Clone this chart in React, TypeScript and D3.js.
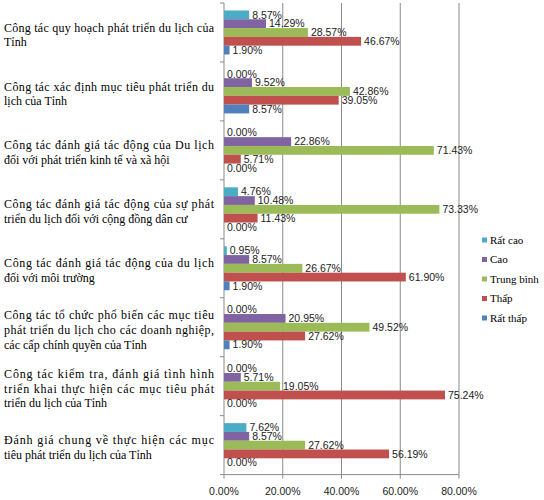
import * as d3 from 'd3';
import { useEffect, useRef } from 'react';

// categories, top to bottom (each entry = the wrapped lines of the label)
const categoryLines: string[][] = [
  ['Công tác quy hoạch phát triển du lịch của', 'Tỉnh'],
  ['Công tác xác định mục tiêu phát triển du', 'lịch của Tỉnh'],
  ['Công tác đánh giá tác động của Du lịch', 'đối với phát triển kinh tế và xã  hội'],
  ['Công tác đánh giá tác động của sự phát', 'triển du lịch đối với cộng đồng dân cư'],
  ['Công tác đánh giá tác động của du lịch', 'đối với môi trường'],
  ['Công tác tổ chức phổ biến các mục tiêu', 'phát triển du lịch cho các doanh nghiệp,', 'các cấp chính quyền của Tỉnh'],
  ['Công tác kiểm tra, đánh giá tình hình', 'triển khai thực hiện các mục tiêu phát', 'triển du lịch của Tỉnh'],
  ['Đánh giá chung về thực hiện các mục', 'tiêu phát triển du lịch của Tỉnh'],
];
const categories = categoryLines.map(l => l.join(' '));

const series = ['Rất cao', 'Cao', 'Trung bình', 'Thấp', 'Rất thấp'];
const colors = ['#4BACC6', '#8064A2', '#9BBB59', '#C0504D', '#4F81BD'];

// values in %, one per category
const veryHigh = [8.57, 0.0, 0.0, 4.76, 0.95, 0.0, 0.0, 7.62];
const high = [14.29, 9.52, 22.86, 10.48, 8.57, 20.95, 5.71, 8.57];
const medium = [28.57, 42.86, 71.43, 73.33, 26.67, 49.52, 19.05, 27.62];
const low = [46.67, 39.05, 5.71, 11.43, 61.9, 27.62, 75.24, 56.19];
const veryLow = [1.9, 8.57, 0.0, 0.0, 1.9, 1.9, 0.0, 0.0];
const seriesValues = [veryHigh, high, medium, low, veryLow];

const xTicks = [0, 20, 40, 60, 80];

const serif = 'Liberation Serif, DejaVu Serif, serif';
const sans = 'Liberation Sans, Arial, sans-serif';

export default function App() {
  const ref = useRef<SVGSVGElement | null>(null);

  useEffect(() => {
    if (!ref.current) return;
    const svg = d3.select(ref.current);
    svg.selectAll('*').remove();

    const left = 224;
    const right = 459;
    const top = 3;
    const bottom = 474.6;

    const x = d3.scaleLinear().domain([0, 80]).range([left, right]);
    const y = d3.scaleBand<string>().domain(categories).range([top, bottom]);
    const yInner = d3.scaleBand<string>()
      .domain(series)
      .range([0, y.bandwidth()])
      .paddingOuter(0.85);

    svg.append('rect').attr('width', 544).attr('height', 500).attr('fill', '#fff');

    // vertical gridlines (+ tick marks below axis)
    svg.append('g')
      .selectAll('line')
      .data(xTicks)
      .join('line')
      .attr('x1', d => x(d)).attr('x2', d => x(d))
      .attr('y1', d => (d === 0 ? bottom : top))
      .attr('y2', bottom + 4)
      .attr('stroke', '#8a8a8a')
      .attr('stroke-width', 1);

    // axes
    svg.append('line')
      .attr('x1', left).attr('x2', left).attr('y1', top).attr('y2', bottom)
      .attr('stroke', '#8a8a8a');
    svg.append('line')
      .attr('x1', left).attr('x2', right).attr('y1', bottom).attr('y2', bottom)
      .attr('stroke', '#8a8a8a');

    // category tick marks
    svg.append('g')
      .selectAll('line')
      .data(d3.range(categories.length + 1))
      .join('line')
      .attr('x1', left - 4).attr('x2', left)
      .attr('y1', i => top + i * y.step())
      .attr('y2', i => top + i * y.step())
      .attr('stroke', '#8a8a8a');

    // x tick labels
    svg.append('g')
      .selectAll('text')
      .data(xTicks)
      .join('text')
      .attr('x', d => x(d))
      .attr('y', bottom + 17)
      .attr('dy', '0.35em')
      .attr('text-anchor', 'middle')
      .attr('font-family', sans)
      .attr('font-size', 10.5)
      .attr('fill', '#222')
      .text(d => `${d.toFixed(2)}%`);

    // bars + labels
    series.forEach((s, si) => {
      const g = svg.append('g');
      const vals = seriesValues[si];
      g.selectAll('rect')
        .data(vals)
        .join('rect')
        .attr('x', left)
        .attr('y', (_, i) => (y(categories[i]) ?? 0) + (yInner(s) ?? 0))
        .attr('width', d => x(d) - left)
        .attr('height', yInner.bandwidth())
        .attr('fill', colors[si]);
      g.selectAll('text')
        .data(vals)
        .join('text')
        .attr('x', d => x(d) + 3)
        .attr('y', (_, i) => (y(categories[i]) ?? 0) + (yInner(s) ?? 0) + yInner.bandwidth() / 2)
        .attr('dy', '0.35em')
        .attr('font-family', sans)
        .attr('font-size', 10.5)
        .attr('fill', '#222')
        .text(d => `${d.toFixed(2)}%`);
    });

    // category labels (justified like the original)
    const lineH = 14.8;
    categoryLines.forEach((lines, ci) => {
      const center = (y(categories[ci]) ?? 0) + y.bandwidth() / 2 + 2.5;
      lines.forEach((line, li) => {
        const t = svg.append('text')
          .attr('x', 4)
          .attr('y', center + (li - (lines.length - 1) / 2) * lineH + 4)
          .attr('font-family', serif)
          .attr('font-size', 12)
          .attr('fill', '#000')
          .text(line);
        if (li < lines.length - 1) {
          t.attr('textLength', 210).attr('lengthAdjust', 'spacing');
        }
      });
    });

    // legend
    const legend = svg.append('g');
    series.forEach((s, si) => {
      const cy = 240 + si * 19.5;
      legend.append('rect')
        .attr('x', 482).attr('y', cy - 2.5)
        .attr('width', 5).attr('height', 5)
        .attr('fill', colors[si]);
      legend.append('text')
        .attr('x', 490).attr('y', cy)
        .attr('dy', '0.35em')
        .attr('font-family', serif)
        .attr('font-size', 11)
        .attr('fill', '#000')
        .text(s);
    });
  }, []);

  return (
    <div style={{ position: 'absolute', left: 0, top: 0 }}>
      <svg ref={ref} width={544} height={500} viewBox="0 0 544 500" style={{ display: 'block' }} />
    </div>
  );
}
